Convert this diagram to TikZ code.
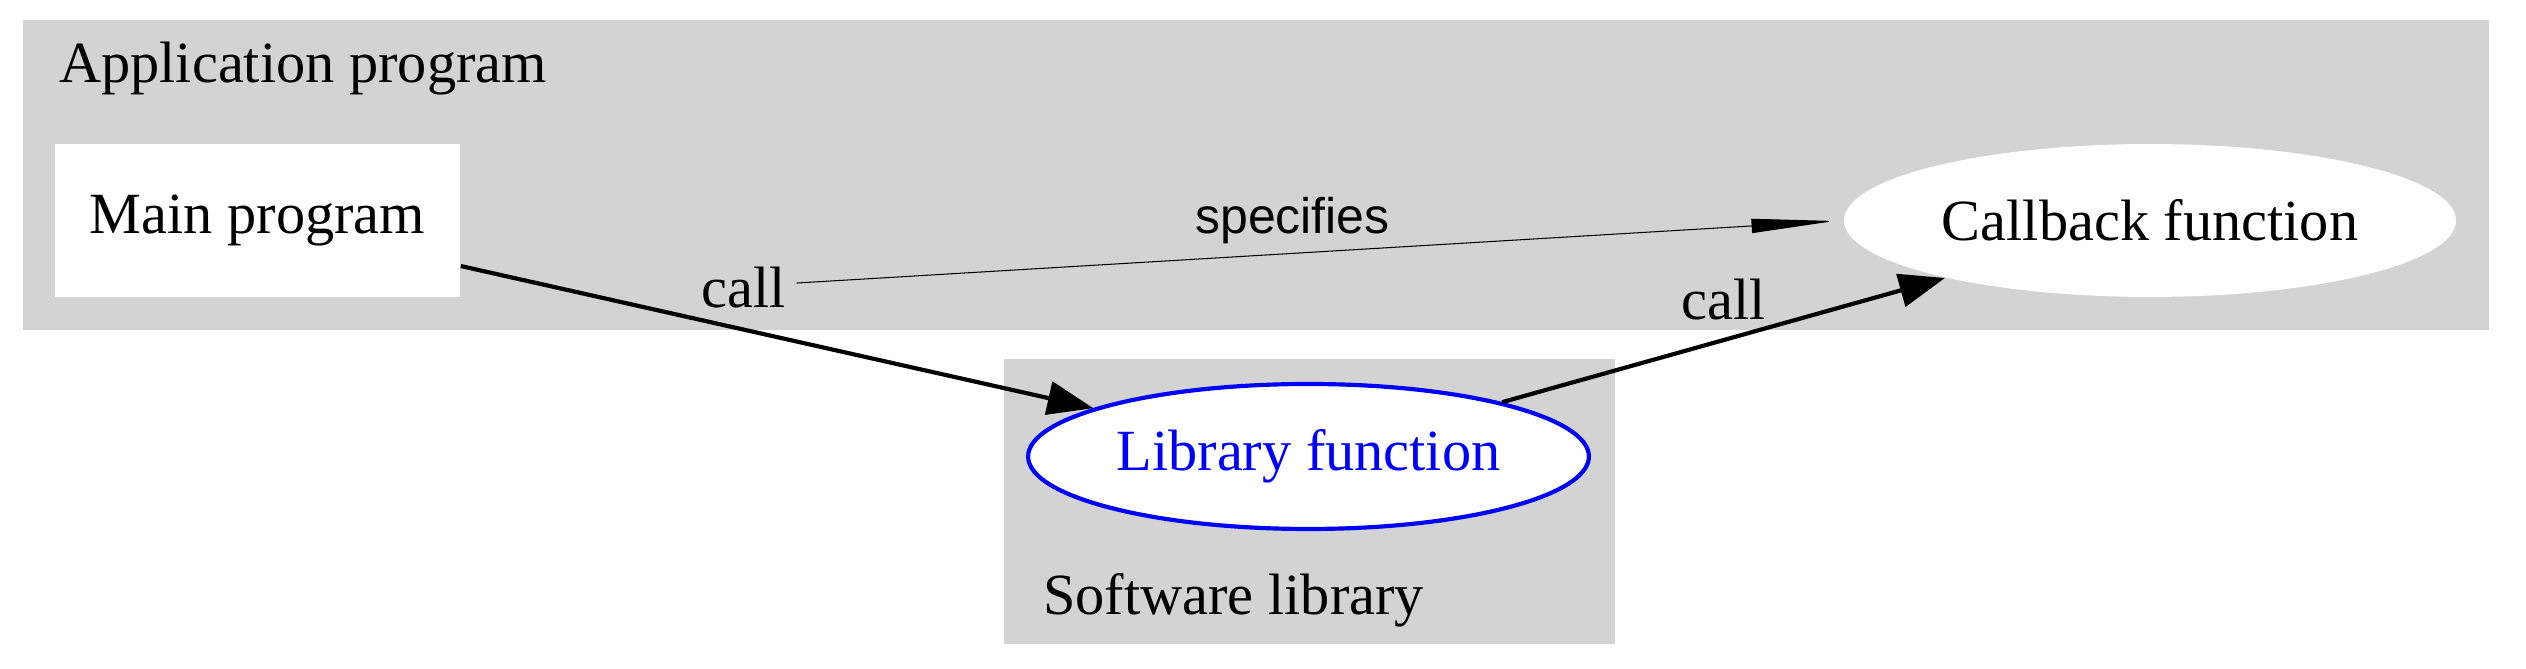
\documentclass[tikz,border=0pt]{standalone}
\usepackage{fontspec}
\setmainfont{Liberation Serif}
\newfontfamily\specfont{Liberation Sans}
\usepackage{xcolor}
\usepackage{tikz}
\usetikzlibrary{arrows.meta, positioning, shapes.geometric, calc}
\definecolor{lgray}{HTML}{D3D3D3}

\begin{document}
\begin{tikzpicture} [x=0.24pt, y=-0.24pt,
    every node/.style={font=\fontsize{14}{16}\selectfont},
    block/.style={fill=white, inner sep=0pt, minimum width=97.2pt, minimum height=36.7pt},
    oval/.style={ellipse, fill=white, inner sep=0pt},
    lbl/.style={anchor=base west, inner sep=2.5pt},
    calledge/.style={line width=1pt, -{Triangle[length=11pt, width=8pt]}},
    specedge/.style={line width=0.25pt, -{Triangle[length=20pt, width=3.4pt]}, shorten >=2pt}]
\useasboundingbox (0,0) rectangle (2526,669);
% clusters
\fill[lgray] (23,20) rectangle (2489,330);
\fill[lgray] (1004,359) rectangle (1615,644);
\node[lbl] (apptitle) at (48,83) {Application program};
\node[lbl] (libtitle) at (1032,615) {Software library};

\node[block] (main) at (257.5,220.5) {Main program};
\node[oval, minimum width=146.9pt, minimum height=36.7pt] (cb) at (2150,220.5) {Callback function};
\node[oval, draw=blue, text=blue, line width=1pt, minimum width=134.6pt, minimum height=34.8pt] (libf) at (1308.5,456.5) {Library function};

\node[lbl] (callA) at (690,308) {call};
\node[lbl] (callB) at (1670,320) {call};
\node[lbl, font=\specfont\fontsize{12}{14}\selectfont] (spec) at (1184,234) {specifies};

\draw[calledge] (main) -- (libf);
\draw[calledge] (libf) -- (cb);
\draw[specedge] ([yshift=1.2pt]callA.east) -- (cb.west);
\end{tikzpicture}
\end{document}
